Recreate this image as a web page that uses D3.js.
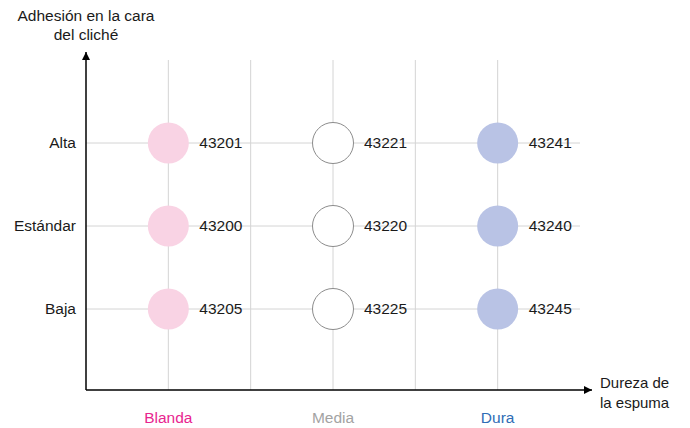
<!DOCTYPE html>
<html><head><meta charset="utf-8">
<script src="https://cdn.jsdelivr.net/npm/d3@7"></script>
<style>body{margin:0;background:#fff}svg{display:block}text{font-family:"Liberation Sans",Arial,Helvetica,sans-serif}</style>
</head><body><svg id="c" width="690" height="428"></svg>
<script>
const hardness = ["Blanda","Media","Dura"];
const hardnessColors = ["#e8258f","#a3a3a3","#2f6db5"];
const adhesion = ["Baja","Estándar","Alta"];
const codes = [
  {h:"Blanda", a:"Alta", code:"43201"},
  {h:"Blanda", a:"Estándar", code:"43200"},
  {h:"Blanda", a:"Baja", code:"43205"},
  {h:"Media", a:"Alta", code:"43221"},
  {h:"Media", a:"Estándar", code:"43220"},
  {h:"Media", a:"Baja", code:"43225"},
  {h:"Dura", a:"Alta", code:"43241"},
  {h:"Dura", a:"Estándar", code:"43240"},
  {h:"Dura", a:"Baja", code:"43245"}
];
const fills = {Blanda:"#f9d3e4", Media:"#ffffff", Dura:"#b9c3e5"};

const svg = d3.select("#c");
const x0 = 86, x1 = 580, yb = 390, yt = 60;
const x = d3.scaleBand().domain(hardness).range([x0, x1]);
const y = d3.scalePoint().domain(adhesion).range([392, 60]).padding(1);

const g = svg.append("g");
const vlines = [];
hardness.forEach((h,i)=>{ vlines.push(x(h)+x.bandwidth()/2); if(i>0) vlines.push(x(h)); });
g.selectAll("line.v").data(vlines).join("line")
  .attr("x1",d=>d).attr("x2",d=>d).attr("y1",yt).attr("y2",yb)
  .attr("stroke","#d4d4d4").attr("stroke-width",1);
g.selectAll("line.h").data(adhesion).join("line")
  .attr("x1",x0).attr("x2",x1).attr("y1",d=>y(d)).attr("y2",d=>y(d))
  .attr("stroke","#d4d4d4").attr("stroke-width",1);

const defs = svg.append("defs");
defs.append("marker").attr("id","arr").attr("viewBox","0 0 10 10").attr("refX",10).attr("refY",5)
  .attr("markerWidth",10).attr("markerHeight",8).attr("markerUnits","userSpaceOnUse").attr("orient","auto")
  .append("path").attr("d","M0,0L10,5L0,10Z").attr("fill","#000");
svg.append("line").attr("x1",x0).attr("y1",yb).attr("x2",x0).attr("y2",52)
  .attr("stroke","#000").attr("stroke-width",1.5).attr("marker-end","url(#arr)");
svg.append("line").attr("x1",x0).attr("y1",yb).attr("x2",592).attr("y2",yb)
  .attr("stroke","#000").attr("stroke-width",1.5).attr("marker-end","url(#arr)");

svg.selectAll("circle.p").data(codes).join("circle")
  .attr("cx",d=>x(d.h)+x.bandwidth()/2).attr("cy",d=>y(d.a)).attr("r",20.5)
  .attr("fill",d=>fills[d.h]).attr("stroke",d=>d.h==="Media"?"#8c8c8c":"none").attr("stroke-width",1);
svg.selectAll("text.code").data(codes).join("text")
  .attr("x",d=>x(d.h)+x.bandwidth()/2+31).attr("y",d=>y(d.a)).attr("dy","0.35em")
  .attr("font-size",15.5).attr("fill","#1a1a1a").text(d=>d.code);

svg.selectAll("text.yl").data(adhesion).join("text")
  .attr("x",76).attr("y",d=>y(d)).attr("dy","0.35em").attr("text-anchor","end")
  .attr("font-size",15.5).attr("fill","#1a1a1a").text(d=>d);
svg.selectAll("text.xl").data(hardness).join("text")
  .attr("x",d=>x(d)+x.bandwidth()/2).attr("y",423).attr("text-anchor","middle")
  .attr("font-size",15.5).attr("fill",(d,i)=>hardnessColors[i]).text(d=>d);

const yt1 = svg.append("text").attr("x",86).attr("y",21).attr("text-anchor","middle").attr("font-size",15.5).attr("fill","#1a1a1a");
yt1.append("tspan").attr("x",86).text("Adhesión en la cara");
yt1.append("tspan").attr("x",86).attr("dy",19).text("del cliché");
const xt = svg.append("text").attr("x",600).attr("y",388).attr("font-size",15).attr("fill","#1a1a1a");
xt.append("tspan").attr("x",600).text("Dureza de");
xt.append("tspan").attr("x",600).attr("dy",20).text("la espuma");
</script></body></html>
